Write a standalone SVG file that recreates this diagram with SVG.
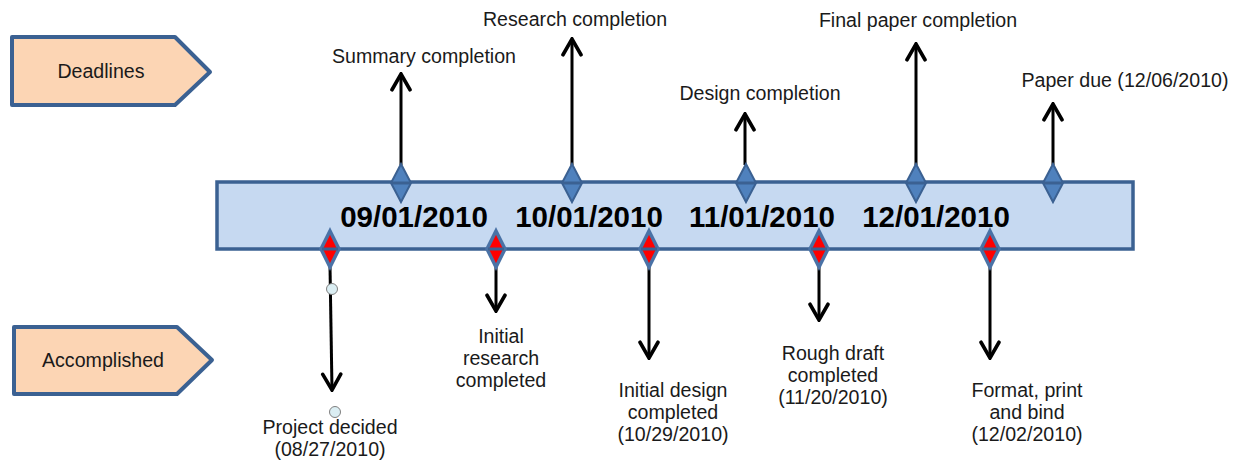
<svg xmlns="http://www.w3.org/2000/svg" width="1245" height="460" viewBox="0 0 1245 460">
<defs>
<style>
.lbl{font-family:"Liberation Sans",Arial,sans-serif;font-size:19.6px;fill:#1a1a1a;text-anchor:middle}
.date{font-family:"Liberation Sans",Arial,sans-serif;font-size:29.5px;font-weight:bold;fill:#000;text-anchor:middle}
.pent{fill:#fcd5b4;stroke:#3b6192;stroke-width:4;stroke-linejoin:round}
.bar{fill:#c6d9f1;stroke:#3b6192;stroke-width:3.5}
.dtop{fill:#4f81bd;stroke:#3b6192;stroke-width:2}
.dbot{fill:#ff0000;stroke:#4a72a6;stroke-width:3.5}
.edge{stroke:#3b6192;stroke-width:3}
.arr{stroke:#000;stroke-width:3;fill:none;marker-end:url(#ah)}
.handle{fill:#dbeef3;stroke:#7f7f7f;stroke-width:1}
</style>
<marker id="ah" viewBox="0 0 20 20" refX="18" refY="10" markerWidth="7.5" markerHeight="7.5" orient="auto" markerUnits="strokeWidth">
<path d="M4,2 L18,10 L4,18" fill="none" stroke="#000" stroke-width="3.2" stroke-linecap="round" stroke-linejoin="miter"/>
</marker>
</defs>

<g id="deadlines">
<polygon class="pent" points="12,37 175,37 210,72 175,105 12,105"/>
<text class="lbl" x="101" y="78">Deadlines</text>
</g>
<g id="accomplished">
<polygon class="pent" points="14,327 177,327 212,360 177,394 14,394"/>
<text class="lbl" x="103" y="367">Accomplished</text>
</g>

<g id="timeline">
<rect class="bar" x="217" y="182" width="916" height="67"/>
<text class="date" x="414" y="227">09/01/2010</text>
<text class="date" x="589" y="227">10/01/2010</text>
<text class="date" x="762" y="227">11/01/2010</text>
<text class="date" x="936" y="227">12/01/2010</text>
</g>

<g id="connectors">
<line class="arr" x1="401" y1="165" x2="401" y2="74"/>
<line class="arr" x1="572" y1="165" x2="572" y2="39"/>
<line class="arr" x1="745" y1="165" x2="745" y2="114"/>
<line class="arr" x1="916" y1="165" x2="916" y2="44"/>
<line class="arr" x1="1053" y1="165" x2="1053" y2="104"/>
<line class="arr" x1="330" y1="266" x2="332" y2="390"/>
<line class="arr" x1="496" y1="266" x2="496" y2="311"/>
<line class="arr" x1="649" y1="266" x2="649" y2="358"/>
<line class="arr" x1="819" y1="266" x2="819" y2="320"/>
<line class="arr" x1="990" y1="266" x2="990" y2="358"/>
</g>

<g id="markers-top">
<g id="m-summary"><polygon class="dtop" points="401,164 411,183 401,202 391,183"/><line class="edge" x1="391" y1="183" x2="411" y2="183"/></g>
<g id="m-research"><polygon class="dtop" points="572,164 582,183 572,202 562,183"/><line class="edge" x1="562" y1="183" x2="582" y2="183"/></g>
<g id="m-design"><polygon class="dtop" points="746,164 756,183 746,202 736,183"/><line class="edge" x1="736" y1="183" x2="756" y2="183"/></g>
<g id="m-final"><polygon class="dtop" points="916,164 926,183 916,202 906,183"/><line class="edge" x1="906" y1="183" x2="926" y2="183"/></g>
<g id="m-due"><polygon class="dtop" points="1053,164 1063,183 1053,202 1043,183"/><line class="edge" x1="1043" y1="183" x2="1063" y2="183"/></g>
</g>

<g id="markers-bottom">
<g id="m-project"><polygon class="dbot" points="330,231 339,249 330,267 321,249"/><line class="edge" x1="322" y1="249" x2="338" y2="249"/></g>
<g id="m-initres"><polygon class="dbot" points="496,231 505,249 496,267 487,249"/><line class="edge" x1="488" y1="249" x2="504" y2="249"/></g>
<g id="m-initdes"><polygon class="dbot" points="649,231 658,249 649,267 640,249"/><line class="edge" x1="641" y1="249" x2="657" y2="249"/></g>
<g id="m-rough"><polygon class="dbot" points="819,231 828,249 819,267 810,249"/><line class="edge" x1="811" y1="249" x2="827" y2="249"/></g>
<g id="m-format"><polygon class="dbot" points="990,231 999,249 990,267 981,249"/><line class="edge" x1="982" y1="249" x2="998" y2="249"/></g>
</g>

<g id="handles">
<circle class="handle" cx="332" cy="289" r="5.5"/>
<circle class="handle" cx="335" cy="412" r="5.5"/>
</g>

<g id="labels-top">
<text class="lbl" x="424" y="63">Summary completion</text>
<text class="lbl" x="575" y="26">Research completion</text>
<text class="lbl" x="760" y="100">Design completion</text>
<text class="lbl" x="918" y="27">Final paper completion</text>
<text class="lbl" x="1125" y="87">Paper due (12/06/2010)</text>
</g>

<g id="labels-bottom">
<text class="lbl" x="330" y="434">Project decided</text>
<text class="lbl" x="330" y="456">(08/27/2010)</text>
<text class="lbl" x="501" y="343">Initial</text>
<text class="lbl" x="501" y="365">research</text>
<text class="lbl" x="501" y="387">completed</text>
<text class="lbl" x="673" y="397">Initial design</text>
<text class="lbl" x="673" y="419">completed</text>
<text class="lbl" x="673" y="441">(10/29/2010)</text>
<text class="lbl" x="833" y="360">Rough draft</text>
<text class="lbl" x="833" y="382">completed</text>
<text class="lbl" x="833" y="404">(11/20/2010)</text>
<text class="lbl" x="1027" y="397">Format, print</text>
<text class="lbl" x="1027" y="419">and bind</text>
<text class="lbl" x="1027" y="441">(12/02/2010)</text>
</g>
</svg>
